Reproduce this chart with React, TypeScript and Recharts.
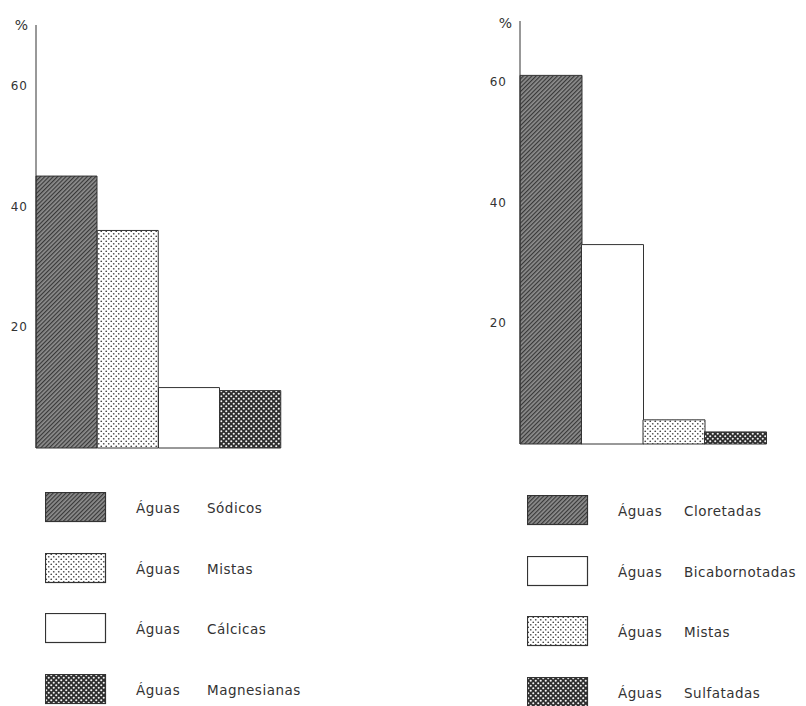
import React from 'react';
import { BarChart, Bar, XAxis, YAxis, Cell, Legend } from 'recharts';

// ---- data ----
const leftCategories = ['Sódicas', 'Mistas', 'Cálcicas', 'Magnesianas'];
const leftValues = [45, 36, 10, 9.5];
const leftLegendWords = ['Sódicos', 'Mistas', 'Cálcicas', 'Magnesianas'];

const rightCategories = ['Cloretadas', 'Bicarbonatadas', 'Mistas', 'Sulfatadas'];
const rightValues = [61, 33, 4, 2];
const rightLegendWords = ['Cloretadas', 'Bicabornotadas', 'Mistas', 'Sulfatadas'];

const yTicks = [20, 40, 60];
const legendPrefix = 'Águas';

// ---- styles ----
const leftFills = ['hatch', 'lightDots', 'plain', 'darkDots'];
const rightFills = ['hatch', 'plain', 'lightDots', 'darkDots'];

const INK = '#333333';
const FONT = '"DejaVu Sans", "Liberation Sans", sans-serif';

function PatternDefs({ prefix }: { prefix: string }) {
  return (
    <defs>
      <pattern id={`${prefix}-hatch`} patternUnits="userSpaceOnUse" width="3" height="3" patternTransform="rotate(45)">
        <rect width="3" height="3" fill="#8e8e8e" />
        <line x1="0.6" y1="0" x2="0.6" y2="3" stroke="#383838" strokeWidth="1.2" />
      </pattern>
      <pattern id={`${prefix}-lightDots`} patternUnits="userSpaceOnUse" width="5" height="5">
        <rect width="5" height="5" fill="#ffffff" />
        <circle cx="1.25" cy="1.25" r="0.85" fill="#444" />
        <circle cx="3.75" cy="3.75" r="0.85" fill="#444" />
      </pattern>
      <pattern id={`${prefix}-darkDots`} patternUnits="userSpaceOnUse" width="5" height="5">
        <rect width="5" height="5" fill="#2e2e2e" />
        <circle cx="1.25" cy="1.25" r="1.05" fill="#f4f4f4" />
        <circle cx="3.75" cy="3.75" r="1.05" fill="#f4f4f4" />
      </pattern>
    </defs>
  );
}

function fillFor(prefix: string, kind: string) {
  return kind === 'plain' ? '#ffffff' : `url(#${prefix}-${kind})`;
}

function makeLegend(prefix: string, fills: string[], words: string[], wordX: number) {
  return () => (
    <div style={{ position: 'relative', width: 300, height: 220, fontFamily: FONT, color: INK, fontSize: 13.5 }}>
      {words.map((w, i) => (
        <div key={w} style={{ position: 'absolute', left: 0, top: i * 60.7, height: 30, width: 300 }}>
          <svg width={62} height={31} style={{ position: 'absolute', left: 0, top: 0 }}>
            <PatternDefs prefix={`${prefix}-lg${i}`} />
            <rect x={0.5} y={0.5} width={60} height={29} fill={fillFor(`${prefix}-lg${i}`, fills[i])} stroke={INK} strokeWidth={1.2} />
          </svg>
          <span style={{ position: 'absolute', left: 91, top: 0, lineHeight: '32px', letterSpacing: 0.5 }}>{legendPrefix}</span>
          <span style={{ position: 'absolute', left: wordX, top: 0, lineHeight: '32px', letterSpacing: 0.5 }}>{w}</span>
        </div>
      ))}
    </div>
  );
}

function percentLabel(dx: number, dy: number) {
  return (props: any) => {
    const vb = props.viewBox || {};
    return (
      <text x={vb.x + vb.width - dx} y={vb.y + dy} textAnchor="end" dominantBaseline="middle" fill={INK} fontSize={14} fontFamily={FONT}>
        %
      </text>
    );
  };
}

function Panel(props: {
  prefix: string;
  categories: string[];
  values: number[];
  fills: string[];
  words: string[];
  left: number;
  marginTop: number;
  marginBottom: number;
  marginRight: number;
  tickMargin: number;
  pctDy: number;
  legendLeft: number;
  legendTop: number;
  wordX: number;
}) {
  const data = props.categories.map((c, i) => ({ name: c, value: props.values[i] }));
  return (
    <div style={{ position: 'absolute', left: props.left, top: 0 }}>
      <BarChart
        width={300}
        height={470}
        data={data}
        barCategoryGap={0}
        margin={{ top: props.marginTop, right: props.marginRight, bottom: props.marginBottom, left: 0 }}
      >
        <PatternDefs prefix={props.prefix} />
        <XAxis dataKey="name" hide />
        <YAxis
          width={36}
          domain={[0, 70]}
          ticks={yTicks}
          tickLine={false}
          tickSize={0}
          tickMargin={props.tickMargin}
          axisLine={{ stroke: INK, strokeWidth: 1 }}
          tick={{ fill: INK, fontSize: 12, fontFamily: FONT, letterSpacing: 1 }}
          label={percentLabel(8, props.pctDy)}
        />
        <Bar dataKey="value" stroke={INK} strokeWidth={1} isAnimationActive={false}>
          {data.map((d, i) => (
            <Cell key={d.name} fill={fillFor(props.prefix, props.fills[i])} />
          ))}
        </Bar>
        <Legend
          layout="vertical"
          align="center"
          verticalAlign="middle"
          content={makeLegend(props.prefix, props.fills, props.words, props.wordX)}
          wrapperStyle={{ left: props.legendLeft, top: props.legendTop, width: 300, height: 220 }}
        />
      </BarChart>
    </div>
  );
}

export default function App() {
  return (
    <div style={{ position: 'absolute', left: 0, top: 0, width: 806, height: 706, background: '#fff', overflow: 'hidden' }}>
      <Panel
        prefix="l"
        categories={leftCategories}
        values={leftValues}
        fills={leftFills}
        words={leftLegendWords}
        left={0}
        marginTop={25}
        marginBottom={22}
        marginRight={19}
        tickMargin={8}
        pctDy={1}
        legendLeft={45}
        legendTop={492}
        wordX={162}
      />
      <Panel
        prefix="r"
        categories={rightCategories}
        values={rightValues}
        fills={rightFills}
        words={rightLegendWords}
        left={484}
        marginTop={21}
        marginBottom={26}
        marginRight={18}
        tickMargin={13}
        pctDy={3}
        legendLeft={43}
        legendTop={495}
        wordX={157}
      />
    </div>
  );
}
